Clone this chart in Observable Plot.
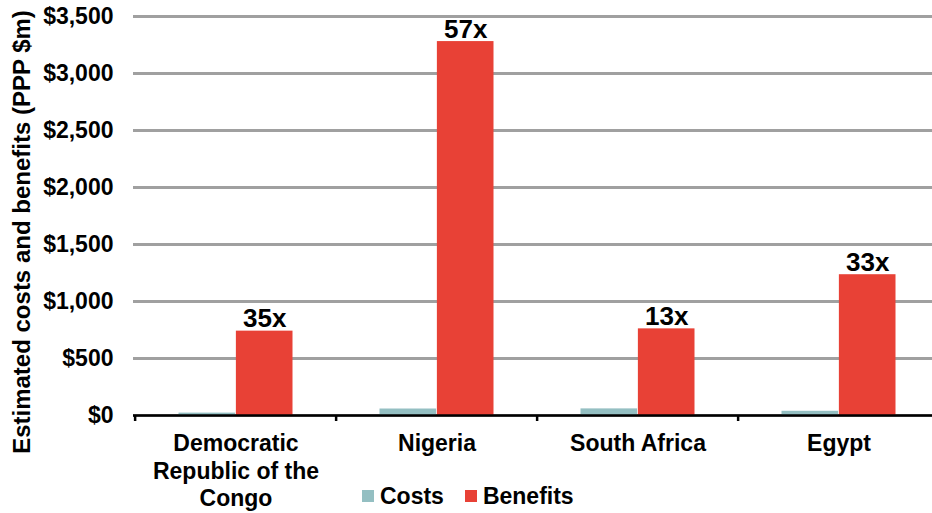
<!DOCTYPE html>
<html><head><meta charset="utf-8">
<script src="https://cdn.jsdelivr.net/npm/d3@7"></script>
<script src="https://cdn.jsdelivr.net/npm/@observablehq/plot@0.6"></script>
<style>
body{margin:0;background:#fff;font-family:"Liberation Sans",Arial,sans-serif;}
#wrap{position:relative;width:932px;height:513px;overflow:hidden;background:#fff}
#wrap svg{font-weight:bold}
.legend{position:absolute;left:362px;top:484px;display:flex;align-items:center;font-weight:bold;font-size:23px;color:#000;line-height:24px}
.legend .item{display:flex;align-items:center;margin-right:21px}
.legend .sw{width:12px;height:12px;display:inline-block;margin-right:6px}
</style></head><body><div id="wrap"></div>
<script>
const countries = ["Democratic Republic of the Congo", "Nigeria", "South Africa", "Egypt"];
const countryLabels = ["Democratic\nRepublic of the\nCongo", "Nigeria", "South Africa", "Egypt"];
const costs = [21, 57, 58, 37];
const benefits = [740, 3280, 760, 1235];
const ratioLabels = ["35x", "57x", "13x", "33x"];
const yTicks = [0, 500, 1000, 1500, 2000, 2500, 3000, 3500];
const series = ["Costs", "Benefits"];
const colors = ["#94bfc2", "#e84136"];
const yTitle = "Estimated costs and benefits (PPP $m)";

const rows = countries.flatMap((c, i) => [
  {country: c, series: "Costs", value: costs[i]},
  {country: c, series: "Benefits", value: benefits[i], ratio: ratioLabels[i]}
]);

const W = 932, H = 513, ML = 133, MT = 16, MB = 98;
const xRange = [133, 940];
const bw = (xRange[1] - xRange[0]) / countries.length;
const pad = 43.5;
const frameH = H - MT - MB;

const chart = Plot.plot({
  width: W, height: H,
  marginLeft: ML, marginRight: 0, marginTop: MT, marginBottom: MB,
  x: {type: "band", domain: countries, range: xRange, padding: 0, axis: null},
  y: {domain: [0, 3500], axis: null},
  color: {domain: series, range: colors},
  style: {fontFamily: "'Liberation Sans', Arial, sans-serif", background: "#fff", color: "#000", overflow: "visible"},
  marks: [
    Plot.gridY(yTicks, {stroke: "#a0a0a0", strokeOpacity: 1, strokeWidth: 3}),
    Plot.axisY(yTicks, {tickSize: 0, tickPadding: 20, tickFormat: d => "$" + d3.format(",")(d), fontSize: 23, label: null}),
    Plot.barY(rows.filter(d => d.series === "Costs"), {x: "country", y: "value", fill: "series", insetLeft: pad, insetRight: bw / 2}),
    Plot.barY(rows.filter(d => d.series === "Benefits"), {x: "country", y: "value", fill: "series", insetLeft: bw / 2, insetRight: pad}),
    Plot.ruleY([0], {stroke: "#000", strokeWidth: 2.5}),
    Plot.ruleX(countries, {x: d => d, dx: -bw / 2, stroke: "#000", strokeWidth: 2.5, insetTop: frameH, insetBottom: -6}),
    Plot.text(rows.filter(d => d.series === "Benefits"), {x: "country", y: "value", text: "ratio", dx: (bw / 2 - pad) / 2, dy: -4, lineAnchor: "bottom", fontSize: 26, fill: "#000"}),
    Plot.text(countries, {x: d => d, text: (d, i) => countryLabels[i], frameAnchor: "bottom", lineAnchor: "top", dy: 16, fontSize: 23, lineHeight: 1.2, fill: "#000"}),
    Plot.text([yTitle], {frameAnchor: "left", textAnchor: "middle", rotate: -90, dx: -111, dy: 16, fontSize: 24, fill: "#000"})
  ]
});
const wrap = document.getElementById("wrap");
wrap.appendChild(chart);

const legend = document.createElement("div");
legend.className = "legend";
series.forEach((s, i) => {
  const item = document.createElement("span");
  item.className = "item";
  const sw = document.createElement("span");
  sw.className = "sw";
  sw.style.background = colors[i];
  item.appendChild(sw);
  item.appendChild(document.createTextNode(s));
  legend.appendChild(item);
});
wrap.appendChild(legend);
</script></body></html>
